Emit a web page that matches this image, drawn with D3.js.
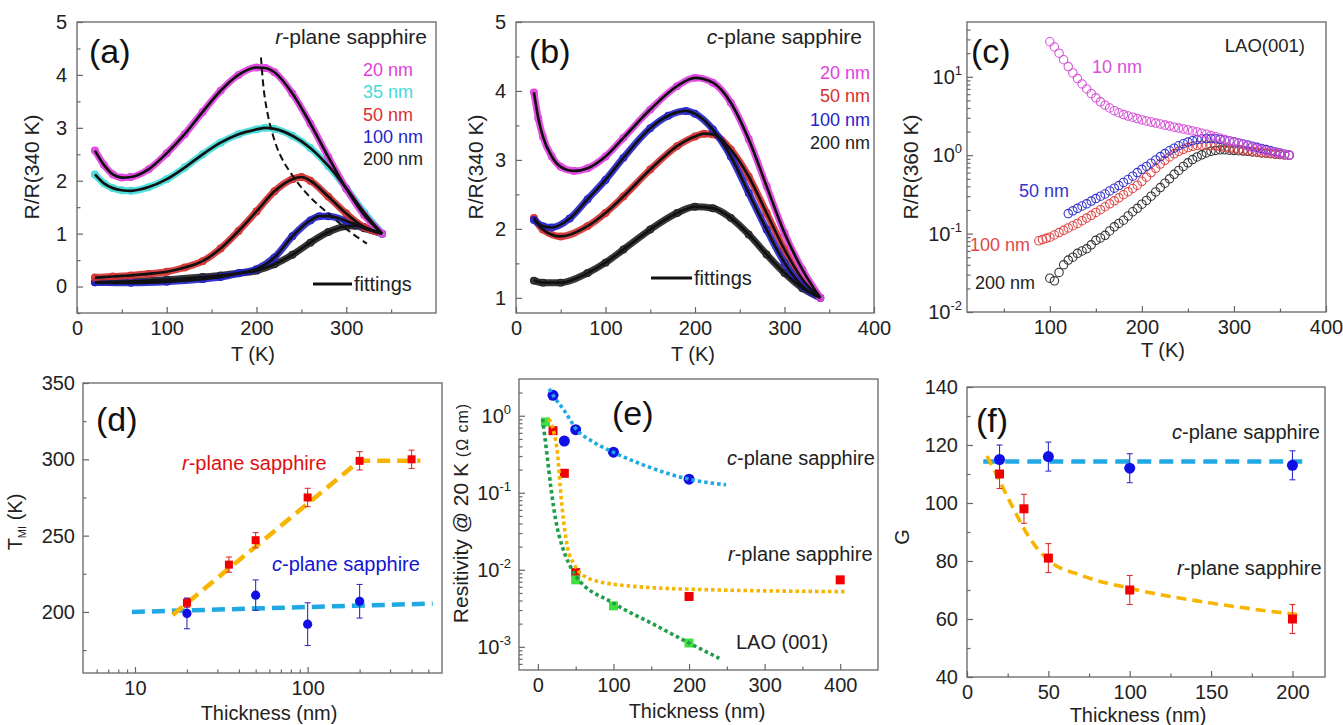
<!DOCTYPE html>
<html>
<head>
<meta charset="utf-8">
<script src="https://cdn.jsdelivr.net/npm/d3@7"></script>
<style>
  body { margin: 0; background: #fff; }
  svg text { font-family: "Liberation Sans", Arial, sans-serif; }
</style>
</head>
<body>
<svg id="fig" width="1343" height="725"></svg>
<script>
// ---------- data ----------
// (a) r-plane sapphire, R/R(340 K) vs T (K)
const a_20nm = [[20,2.57],[30,2.3],[40,2.12],[50,2.06],[60,2.07],[80,2.22],[100,2.52],[120,2.88],[140,3.3],[160,3.7],[180,4.0],[200,4.14],[210,4.13],[220,4.05],[240,3.65],[260,3.08],[280,2.45],[300,1.85],[320,1.35],[340,1.0]];
const a_35nm = [[20,2.12],[30,1.95],[40,1.86],[50,1.82],[60,1.81],[80,1.88],[100,2.03],[120,2.25],[140,2.5],[160,2.72],[180,2.88],[200,2.97],[210,3.0],[220,2.98],[240,2.85],[260,2.62],[280,2.28],[300,1.86],[320,1.4],[340,1.0]];
const a_50nm = [[20,0.17],[40,0.19],[60,0.21],[80,0.24],[100,0.28],[120,0.36],[140,0.48],[160,0.72],[180,1.05],[200,1.42],[220,1.8],[240,2.03],[250,2.07],[260,2.0],[280,1.7],[300,1.38],[320,1.12],[340,1.0]];
const a_100nm = [[20,0.08],[60,0.07],[100,0.09],[140,0.14],[160,0.18],[180,0.25],[200,0.33],[220,0.55],[240,0.95],[260,1.25],[270,1.33],[280,1.33],[300,1.24],[320,1.12],[340,1.0]];
const a_200nm = [[20,0.08],[60,0.1],[100,0.13],[140,0.18],[160,0.21],[180,0.25],[200,0.3],[220,0.42],[240,0.6],[260,0.83],[280,1.03],[300,1.14],[310,1.15],[320,1.1],[340,1.0]];
const a_peakGuide = [[205,4.33],[209,3.6],[216,3.0],[226,2.5],[240,2.1],[258,1.72],[280,1.38],[303,1.05],[323,0.81]];

// (b) c-plane sapphire
const b_20nm = [[20,3.98],[25,3.6],[30,3.34],[40,3.05],[50,2.9],[65,2.84],[80,2.88],[100,3.05],[120,3.32],[150,3.73],[180,4.07],[200,4.19],[220,4.12],[240,3.83],[260,3.3],[280,2.62],[300,1.94],[320,1.41],[340,1.0]];
const b_50nm = [[20,2.16],[30,1.99],[50,1.89],[80,2.04],[100,2.23],[120,2.47],[150,2.86],[180,3.2],[200,3.34],[210,3.38],[220,3.37],[240,3.15],[260,2.76],[280,2.23],[300,1.7],[320,1.27],[340,1.0]];
const b_100nm = [[20,2.13],[30,2.04],[40,2.02],[60,2.15],[80,2.43],[100,2.71],[120,3.03],[150,3.46],[170,3.64],[190,3.71],[200,3.67],[220,3.44],[240,3.05],[260,2.52],[280,1.99],[300,1.51],[320,1.17],[340,1.0]];
const b_200nm = [[20,1.25],[30,1.22],[50,1.22],[80,1.36],[100,1.51],[120,1.7],[150,1.99],[180,2.23],[200,2.32],[220,2.3],[240,2.16],[260,1.92],[280,1.63],[300,1.36],[320,1.14],[340,1.0]];

// (c) LAO(001), R/R(360 K), log scale
const c_10nm = [[100,28],[105,24],[110,20],[115,16.5],[120,13.5],[125,11.2],[130,9.5],[135,8.1],[140,7.0],[145,6.1],[150,5.4],[155,4.8],[160,4.35],[165,4.0],[170,3.7],[175,3.48],[180,3.3],[185,3.16],[190,3.05],[195,2.93],[200,2.82],[205,2.73],[210,2.65],[215,2.57],[220,2.5],[225,2.42],[230,2.35],[235,2.28],[240,2.22],[245,2.16],[250,2.1],[255,2.04],[260,1.98],[265,1.91],[270,1.85],[275,1.78],[280,1.72],[285,1.65],[290,1.58],[295,1.52],[300,1.47],[305,1.42],[310,1.37],[315,1.31],[320,1.26],[325,1.22],[330,1.18],[335,1.14],[340,1.11],[345,1.08],[350,1.05],[355,1.02],[360,1.0]];
const c_50nm = [[120,0.18],[125,0.195],[130,0.21],[135,0.225],[140,0.24],[145,0.26],[150,0.28],[155,0.3],[160,0.32],[165,0.35],[170,0.38],[175,0.41],[180,0.45],[185,0.49],[190,0.54],[195,0.6],[200,0.66],[205,0.72],[210,0.79],[215,0.87],[220,0.96],[225,1.05],[230,1.14],[235,1.23],[240,1.32],[245,1.4],[250,1.47],[255,1.53],[260,1.58],[265,1.61],[270,1.63],[275,1.63],[280,1.62],[285,1.59],[290,1.56],[295,1.52],[300,1.48],[305,1.43],[310,1.39],[315,1.35],[320,1.3],[325,1.26],[330,1.22],[335,1.18],[340,1.14],[345,1.1],[350,1.07],[355,1.03],[360,1.0]];
const c_100nm = [[88,0.081],[92,0.084],[96,0.087],[100,0.09],[105,0.096],[110,0.103],[115,0.11],[120,0.118],[125,0.126],[130,0.135],[135,0.146],[140,0.158],[145,0.171],[150,0.186],[155,0.202],[160,0.22],[165,0.24],[170,0.262],[175,0.286],[180,0.313],[185,0.343],[190,0.376],[195,0.415],[200,0.465],[205,0.525],[210,0.6],[215,0.68],[220,0.77],[225,0.86],[230,0.95],[235,1.04],[240,1.12],[245,1.19],[250,1.25],[255,1.3],[260,1.33],[265,1.34],[270,1.34],[275,1.33],[280,1.31],[285,1.29],[290,1.26],[295,1.23],[300,1.2],[305,1.18],[310,1.16],[315,1.14],[320,1.12],[325,1.1],[330,1.08],[335,1.07],[340,1.05],[345,1.04],[350,1.03],[355,1.01],[360,1.0]];
const c_200nm = [[100,0.027],[105,0.025],[110,0.032],[115,0.04],[120,0.046],[125,0.05],[130,0.056],[135,0.06],[140,0.064],[145,0.072],[150,0.082],[155,0.088],[160,0.095],[165,0.108],[170,0.122],[175,0.135],[180,0.148],[185,0.168],[190,0.19],[195,0.21],[200,0.237],[205,0.265],[210,0.3],[215,0.34],[220,0.386],[225,0.44],[230,0.5],[235,0.57],[240,0.64],[245,0.72],[250,0.8],[255,0.88],[260,0.95],[265,1.01],[270,1.07],[275,1.12],[280,1.15],[285,1.17],[290,1.17],[295,1.16],[300,1.15],[305,1.14],[310,1.13],[315,1.12],[320,1.1],[325,1.09],[330,1.07],[335,1.06],[340,1.05],[345,1.03],[350,1.02],[355,1.01],[360,1.0]];

// (d) T_MI vs thickness
const d_thickR = [20, 35, 50, 100, 200, 400];
const d_tmiR   = [206, 231, 247, 275, 299, 300];
const d_errR   = [3, 5, 5, 6, 6, 6];
const d_thickC = [20, 50, 100, 200];
const d_tmiC   = [199, 211, 192, 207];
const d_errC   = [10, 10, 14, 11];
const d_fitR = [[16.5,198],[200,299],[450,299]];
const d_fitC = [[9.6,200],[530,205.5]];

// (e) resistivity @ 20 K
const e_thickC = [20, 35, 50, 100, 200];
const e_rhoC   = [1.84, 0.47, 0.66, 0.336, 0.15];
const e_thickR = [20, 35, 50, 200, 400];
const e_rhoR   = [0.64, 0.179, 0.0092, 0.0045, 0.0074];
const e_thickL = [10, 50, 100, 200];
const e_rhoL   = [0.83, 0.0074, 0.0034, 0.00112];
const e_fitC = [[15,2.24],[21.6,1.75],[34.9,1.17],[50.3,0.68],[74.6,0.45],[99.7,0.336],[136,0.237],[200,0.15],[249,0.127]];
const e_fitR = [[15,0.91],[21.6,0.58],[26,0.32],[29.6,0.117],[34,0.043],[39.3,0.0194],[48,0.0118],[61,0.0083],[99.7,0.0065],[200,0.0056],[408,0.0052]];
const e_fitL = [[6.2,0.91],[11.9,0.32],[17.2,0.117],[23.8,0.043],[32.7,0.0194],[41.5,0.0118],[50.3,0.0083],[99.7,0.0037],[154,0.00194],[200,0.00112],[240,0.00071]];

// (f) G vs thickness
const f_thickC = [20, 50, 100, 200];
const f_gC     = [115, 116, 112, 113];
const f_errC   = [5, 5, 5, 5];
const f_thickR = [20, 35, 50, 100, 200];
const f_gR     = [110, 98, 81, 70, 60];
const f_errR   = [5, 5, 5, 5, 5];
const f_fitC = [[10,114.3],[206,114.3]];
const f_fitR = [[12.3,116.2],[19.2,108.5],[28.4,98.2],[38.6,87.8],[49.9,80.3],[69.3,75.2],[100,70.6],[151,65.4],[205,61.4]];

// ---------- drawing ----------
const svg = d3.select("#fig");
const FRAME = "#666";
const TXT = "#222";
const MAG = "#E040E0", CYA = "#45DADA", RED = "#D63030", BLU = "#2424CC", BLK = "#222";
const SQR = "#F00000", DOT = "#0F0FE6", GRN = "#3FE03F";
const ORG = "#F7B500", SKY = "#1FA8E2", DGR = "#1E9E4A";
let clipN = 0;

function panel(box, xs, ys) {
  const g = svg.append("g").attr("transform", `translate(${box[0]},${box[1]})`);
  const w = box[2] - box[0], h = box[3] - box[1];
  xs.range([0, w]); ys.range([h, 0]);
  const id = "clip" + (++clipN);
  g.append("clipPath").attr("id", id).append("rect").attr("width", w).attr("height", h);
  const p = { g, w, h, x: xs, y: ys };
  p.plot = g.append("g").attr("clip-path", `url(#${id})`);
  p.axes = g.append("g");
  g.append("rect").attr("width", w).attr("height", h)
    .attr("fill", "none").attr("stroke", FRAME).attr("stroke-width", 1.3);
  return p;
}

function styleAxis(sel) {
  sel.select(".domain").remove();
  sel.selectAll(".tick line").attr("stroke", FRAME).attr("stroke-width", 1.2);
  sel.selectAll(".tick text").attr("font-size", 20).attr("fill", TXT)
    .attr("font-family", '"Liberation Sans", Arial, sans-serif');
}

function axisX(p, major, minor, fmt) {
  styleAxis(p.axes.append("g").attr("transform", `translate(0,${p.h})`)
    .call(d3.axisBottom(p.x).tickValues(major).tickSize(-6).tickPadding(8).tickFormat(fmt === undefined ? d => d : fmt)));
  if (minor) styleAxis(p.axes.append("g").attr("transform", `translate(0,${p.h})`)
    .call(d3.axisBottom(p.x).tickValues(minor).tickSize(-3.5).tickFormat("")));
}

function axisY(p, major, minor, fmt, pad) {
  styleAxis(p.axes.append("g")
    .call(d3.axisLeft(p.y).tickValues(major).tickSize(-6).tickPadding(pad || 9).tickFormat(fmt === undefined ? d => d : fmt)));
  if (minor) styleAxis(p.axes.append("g")
    .call(d3.axisLeft(p.y).tickValues(minor).tickSize(-3.5).tickFormat("")));
}

function logMinor(lo, hi) {
  const out = [];
  for (let e = Math.floor(Math.log10(lo)); e <= Math.ceil(Math.log10(hi)); e++)
    for (let k = 2; k <= 9; k++) { const v = k * Math.pow(10, e); if (v > lo && v < hi) out.push(v); }
  return out;
}

function supLabelsY(p, exps, pad) {
  exps.forEach(e => {
    const t = p.axes.append("text").attr("x", -pad).attr("y", p.y(Math.pow(10, e)))
      .attr("dy", "0.35em").attr("text-anchor", "end").attr("font-size", 20).attr("fill", TXT);
    t.append("tspan").text("10");
    t.append("tspan").attr("dy", -9).attr("font-size", 13).text(String(e));
  });
}

function label(txt, x, y, opt) {
  opt = opt || {};
  const t = svg.append("text").attr("x", x).attr("y", y)
    .attr("font-size", opt.size || 20).attr("fill", opt.color || TXT)
    .attr("text-anchor", opt.anchor || "start");
  if (opt.rotate) t.attr("transform", `rotate(-90,${x},${y})`);
  if (opt.italicFirst) {
    t.append("tspan").attr("font-style", "italic").text(txt[0]);
    t.append("tspan").text(txt.slice(1));
  } else t.text(txt);
  return t;
}

function tag(txt, x, y) {
  svg.append("text").attr("x", x).attr("y", y).attr("font-size", 34)
    .attr("font-family", "Lato, 'Open Sans', sans-serif").attr("fill", "#111").text(txt);
}

function bandsAndFits(p, series, bandW) {
  const line = d3.line().x(d => p.x(d[0])).y(d => p.y(d[1])).curve(d3.curveMonotoneX);
  series.forEach(s => {
    p.plot.append("path").datum(s.data).attr("d", line).attr("fill", "none")
      .attr("stroke", s.color).attr("stroke-width", bandW).attr("stroke-linecap", "round")
      .attr("stroke-linejoin", "round").attr("opacity", 0.9);
    p.plot.selectAll(null).data(s.data).join("circle")
      .attr("cx", d => p.x(d[0])).attr("cy", d => p.y(d[1])).attr("r", 3.4)
      .attr("fill", "none").attr("stroke", s.color).attr("stroke-width", 1.1);
  });
  series.forEach(s => {
    p.plot.append("path").datum(s.data).attr("d", line).attr("fill", "none")
      .attr("stroke", "#111").attr("stroke-width", 2.7);
  });
}

function fittingsKey(x1, x2, y) {
  svg.append("line").attr("x1", x1).attr("x2", x2).attr("y1", y).attr("y2", y)
    .attr("stroke", "#111").attr("stroke-width", 3);
  label("fittings", x2 + 2, y + 7, { size: 20 });
}

// ---- (a) ----
{
  const p = panel([77, 22, 436, 313], d3.scaleLinear().domain([0, 400]), d3.scaleLinear().domain([-0.5, 5]));
  bandsAndFits(p, [
    { data: a_200nm, color: BLK }, { data: a_100nm, color: BLU }, { data: a_50nm, color: RED },
    { data: a_35nm, color: CYA }, { data: a_20nm, color: MAG }], 7);
  p.plot.append("path").datum(a_peakGuide)
    .attr("d", d3.line().x(d => p.x(d[0])).y(d => p.y(d[1])).curve(d3.curveCatmullRom))
    .attr("fill", "none").attr("stroke", "#111").attr("stroke-width", 2).attr("stroke-dasharray", "7,4");
  axisX(p, [0, 100, 200, 300], [50, 150, 250, 350]);
  axisY(p, [0, 1, 2, 3, 4, 5], [-0.5, 0.5, 1.5, 2.5, 3.5, 4.5], undefined, 10);
  tag("(a)", 89, 63);
  label("r-plane sapphire", 427, 44, { size: 21, anchor: "end", italicFirst: true });
  [["20 nm", MAG], ["35 nm", CYA], ["50 nm", RED], ["100 nm", BLU], ["200 nm", BLK]]
    .forEach((d, i) => label(d[0], 363, 76 + i * 22.3, { size: 18, color: d[1] }));
  fittingsKey(313, 352, 284);
  label("R/R(340 K)", 39, 167, { size: 21, anchor: "middle", rotate: true });
  label("T (K)", 253, 361, { anchor: "middle" });
}

// ---- (b) ----
{
  const p = panel([516, 22, 874, 313], d3.scaleLinear().domain([0, 400]), d3.scaleLinear().domain([0.78, 5]));
  bandsAndFits(p, [
    { data: b_200nm, color: BLK }, { data: b_50nm, color: RED }, { data: b_100nm, color: BLU },
    { data: b_20nm, color: MAG }], 7);
  axisX(p, [0, 100, 200, 300, 400], [50, 150, 250, 350]);
  axisY(p, [1, 2, 3, 4, 5], [1.5, 2.5, 3.5, 4.5], undefined, 10);
  tag("(b)", 529, 63);
  label("c-plane sapphire", 862, 44, { size: 21, anchor: "end", italicFirst: true });
  [["20 nm", MAG], ["50 nm", RED], ["100 nm", BLU], ["200 nm", BLK]]
    .forEach((d, i) => label(d[0], 870, 79 + i * 23.3, { size: 18, color: d[1], anchor: "end" }));
  fittingsKey(651, 692, 278);
  label("R/R(340 K)", 483, 167, { size: 21, anchor: "middle", rotate: true });
  label("T (K)", 693, 361, { anchor: "middle" });
}

// ---- (c) ----
{
  const p = panel([967, 22, 1326, 312], d3.scaleLinear().domain([10, 400]), d3.scaleLog().domain([0.01, 50]));
  [[c_200nm, "#333"], [c_100nm, "#E04848"], [c_50nm, "#3535CC"], [c_10nm, "#D850D8"]].forEach(s => {
    p.plot.selectAll(null).data(s[0]).join("circle")
      .attr("cx", d => p.x(d[0])).attr("cy", d => p.y(d[1])).attr("r", 4.2)
      .attr("fill", "none").attr("stroke", s[1]).attr("stroke-width", 1.1);
  });
  axisX(p, [100, 200, 300, 400], [50, 150, 250, 350]);
  axisY(p, [0.01, 0.1, 1, 10], logMinor(0.01, 50), "");
  supLabelsY(p, [-2, -1, 0, 1], 5);
  tag("(c)", 971, 63);
  label("LAO(001)", 1305, 52, { size: 18.5, anchor: "end" });
  label("10 nm", 1092, 73, { size: 18, color: "#D850D8" });
  label("50 nm", 1019, 197, { size: 18, color: "#3535CC" });
  label("100 nm", 970, 251, { size: 18, color: "#E04848" });
  label("200 nm", 975, 289, { size: 18, color: "#222" });
  label("R/R(360 K)", 918, 167, { size: 21, anchor: "middle", rotate: true });
  label("T (K)", 1163, 357, { anchor: "middle" });
}

function errBars(p, xs, ys, es, color) {
  xs.forEach((v, i) => {
    const x = p.x(v), y1 = p.y(ys[i] - es[i]), y2 = p.y(ys[i] + es[i]);
    p.plot.append("line").attr("x1", x).attr("x2", x).attr("y1", y1).attr("y2", y2).attr("stroke", color).attr("stroke-width", 1.1);
    [y1, y2].forEach(y => p.plot.append("line").attr("x1", x - 3).attr("x2", x + 3).attr("y1", y).attr("y2", y).attr("stroke", color).attr("stroke-width", 1.1));
  });
}
function squares(p, xs, ys, s, color) {
  p.plot.selectAll(null).data(xs).join("rect")
    .attr("x", (d) => p.x(d) - s / 2).attr("y", (d, i) => p.y(ys[i]) - s / 2)
    .attr("width", s).attr("height", s).attr("fill", color);
}
function dots(p, xs, ys, r, color) {
  p.plot.selectAll(null).data(xs).join("circle")
    .attr("cx", d => p.x(d)).attr("cy", (d, i) => p.y(ys[i])).attr("r", r).attr("fill", color);
}
function fitLine(p, data, color, w, dash, curve) {
  p.plot.append("path").datum(data)
    .attr("d", d3.line().x(d => p.x(d[0])).y(d => p.y(d[1])).curve(curve || d3.curveLinear))
    .attr("fill", "none").attr("stroke", color).attr("stroke-width", w).attr("stroke-dasharray", dash);
}

// ---- (d) ----
{
  const p = panel([83, 383, 442, 673], d3.scaleLog().domain([5, 600]), d3.scaleLinear().domain([160, 350]));
  fitLine(p, d_fitC, SKY, 4.5, "13,7");
  fitLine(p, d_fitR, ORG, 4.5, "13,7");
  errBars(p, d_thickR, d_tmiR, d_errR, "#E03030");
  errBars(p, d_thickC, d_tmiC, d_errC, "#3030C0");
  squares(p, d_thickR, d_tmiR, 8, SQR);
  dots(p, d_thickC, d_tmiC, 4.6, DOT);
  axisX(p, [10, 100], logMinor(5, 600).filter(v => v !== 10 && v !== 100));
  axisY(p, [200, 250, 300, 350], [175, 225, 275, 325], undefined, 8);
  tag("(d)", 96, 431);
  label("r-plane sapphire", 182, 470, { color: "#E01010", italicFirst: true });
  label("c-plane sapphire", 272, 571, { color: "#1515D0", italicFirst: true });
  const t = svg.append("text").attr("x", 22).attr("y", 522).attr("text-anchor", "middle")
    .attr("transform", "rotate(-90,22,522)").attr("fill", TXT).attr("font-size", 20);
  t.append("tspan").text("T");
  t.append("tspan").attr("font-size", 11).attr("dy", 4).text("MI");
  t.append("tspan").attr("dy", -4).text(" (K)");
  label("Thickness (nm)", 269, 720, { anchor: "middle" });
}

// ---- (e) ----
{
  const p = panel([519, 379, 878, 670], d3.scaleLinear().domain([-25, 450]), d3.scaleLog().domain([5e-4, 3]));
  squares(p, e_thickR, e_rhoR, 9, SQR);
  squares(p, e_thickL, e_rhoL, 9, GRN);
  dots(p, e_thickC, e_rhoC, 5.5, DOT);
  fitLine(p, e_fitC, SKY, 3.6, "3.5,3", d3.curveMonotoneX);
  fitLine(p, e_fitR, ORG, 3.6, "3.5,3", d3.curveMonotoneX);
  fitLine(p, e_fitL, DGR, 3.6, "3.5,3", d3.curveMonotoneX);
  axisX(p, [0, 100, 200, 300, 400], [50, 150, 250, 350]);
  axisY(p, [0.001, 0.01, 0.1, 1], logMinor(5e-4, 3), "");
  supLabelsY(p, [-3, -2, -1, 0], 8);
  tag("(e)", 612, 425);
  label("c-plane sapphire", 727, 465, { italicFirst: true });
  label("r-plane sapphire", 728, 561, { italicFirst: true });
  label("LAO (001)", 736, 649);
  const t = svg.append("text").attr("x", 468).attr("y", 513).attr("text-anchor", "middle")
    .attr("transform", "rotate(-90,468,513)").attr("fill", TXT).attr("font-size", 21);
  t.append("tspan").text("Resitivity @ 20 K ");
  t.append("tspan").attr("font-size", 16).attr("letter-spacing", 1).text("(\u03A9 cm)");
  label("Thickness (nm)", 697, 718, { anchor: "middle" });
}

// ---- (f) ----
{
  const p = panel([967, 387, 1325, 677], d3.scaleLinear().domain([0, 220]), d3.scaleLinear().domain([40, 140]));
  fitLine(p, f_fitC, SKY, 4.5, "14,8");
  fitLine(p, f_fitR, ORG, 3.6, "10,6", d3.curveMonotoneX);
  errBars(p, f_thickR, f_gR, f_errR, "#E03030");
  errBars(p, f_thickC, f_gC, f_errC, "#3030C0");
  squares(p, f_thickR, f_gR, 9, SQR);
  dots(p, f_thickC, f_gC, 5.5, DOT);
  axisX(p, [0, 50, 100, 150, 200], [25, 75, 125, 175]);
  axisY(p, [40, 60, 80, 100, 120, 140], [50, 70, 90, 110, 130], undefined, 9);
  tag("(f)", 976, 432);
  label("c-plane sapphire", 1172, 439, { italicFirst: true });
  label("r-plane sapphire", 1177, 575, { italicFirst: true });
  label("G", 909, 537, { anchor: "middle", rotate: true });
  label("Thickness (nm)", 1138, 722, { anchor: "middle" });
}
</script>
</body>
</html>
